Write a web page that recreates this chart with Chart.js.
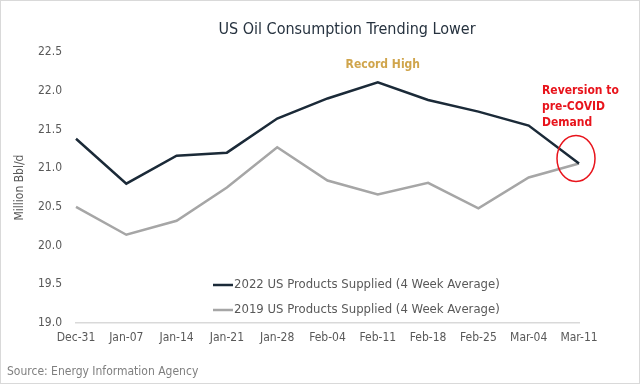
<!DOCTYPE html>
<html lang="en">
<head>
    <meta charset="UTF-8">
    <title>US Oil Consumption Trending Lower</title>
    <style>
        html, body { margin: 0; padding: 0; background: #fff; }
        #wrap { width: 640px; height: 384px; position: relative; box-sizing: border-box; border: 1px solid #d9d9d9; }
    </style>
</head>
<body>
    <div id="wrap">
        <canvas id="myChart" width="638" height="382"></canvas>
    </div>

    <script src="https://cdn.jsdelivr.net/npm/chart.js"></script>

    <script>
    // weekly dates (x axis)
    var weeks = ["Dec-31", "Jan-07", "Jan-14", "Jan-21", "Jan-28", "Feb-04",
                 "Feb-11", "Feb-18", "Feb-25", "Mar-04", "Mar-11"];

    // million bbl/d
    var supplied2022 = [21.38, 20.80, 21.16, 21.20, 21.64, 21.90, 22.11, 21.88, 21.73, 21.55, 21.06];
    var supplied2019 = [20.50, 20.14, 20.32, 20.75, 21.27, 20.84, 20.66, 20.81, 20.48, 20.88, 21.06];

    var label2022 = "2022 US Products Supplied (4 Week Average)";
    var label2019 = "2019 US Products Supplied (4 Week Average)";

    var font = "DejaVu Sans Condensed, DejaVu Sans, sans-serif";

    // title, notes, legend and source text
    const extras = {
        id: 'extras',
        afterDraw(chart) {
            const c = chart.ctx;
            const xs = chart.scales.x;
            const ys = chart.scales.y;
            c.save();

            c.fillStyle = '#26323f';
            c.font = '16px ' + font;
            c.textAlign = 'center';
            c.textBaseline = 'middle';
            c.fillText('US Oil Consumption Trending Lower', 346, 29);

            // record high note
            c.fillStyle = '#d0a54c';
            c.font = 'bold 12px ' + font;
            c.fillText('Record High', xs.getPixelForValue(6) + 5, 64);

            // reversion note
            c.fillStyle = '#e8141c';
            c.textAlign = 'left';
            c.fillText('Reversion to', 541, 90);
            c.fillText('pre-COVID', 541, 106);
            c.fillText('Demand', 541, 122);

            // circle round the last point
            c.strokeStyle = '#e8141c';
            c.lineWidth = 1.5;
            c.beginPath();
            c.ellipse(xs.getPixelForValue(10) - 3, ys.getPixelForValue(21.06) - 5, 19, 23, 0, 0, Math.PI * 2);
            c.stroke();

            // legend
            const items = [[label2022, '#1b2a38'], [label2019, '#a6a6a6']];
            c.font = '13px ' + font;
            c.lineWidth = 2.5;
            items.forEach(function (it, i) {
                const y = 284 + i * 25;
                c.strokeStyle = it[1];
                c.beginPath();
                c.moveTo(212, y);
                c.lineTo(232, y);
                c.stroke();
                c.fillStyle = '#595959';
                c.fillText(it[0], 233, y);
            });

            c.font = '12px ' + font;
            c.fillStyle = '#7f7f7f';
            c.fillText('Source: Energy Information Agency', 6, 371);
            c.restore();
        }
    };

    const ctx = document.getElementById('myChart');
    new Chart(ctx, {
        type: 'line',
        data: {
            labels: weeks,
            datasets: [{
                label: label2022,
                data: supplied2022,
                borderColor: '#1b2a38',
                borderWidth: 2.5,
                pointRadius: 0,
                tension: 0
            }, {
                label: label2019,
                data: supplied2019,
                borderColor: '#a6a6a6',
                borderWidth: 2.5,
                pointRadius: 0,
                tension: 0
            }]
        },
        options: {
            responsive: false,
            animation: false,
            layout: { padding: { top: 51, right: 60, bottom: 30, left: 0 } },
            plugins: {
                legend: { display: false },
                tooltip: { enabled: false }
            },
            scales: {
                x: {
                    offset: false,
                    grid: { display: false },
                    border: { display: true, color: '#d9d9d9', width: 1.5 },
                    ticks: { color: '#595959', font: { family: font, size: 12 }, padding: 0, maxRotation: 0, autoSkip: false },
                    afterFit: function (s) { s.height = 30; }
                },
                y: {
                    min: 19,
                    max: 22.5,
                    grid: { display: false },
                    border: { display: false },
                    ticks: {
                        stepSize: 0.5,
                        color: '#595959',
                        font: { family: font, size: 12 },
                        padding: 6,
                        callback: function (v) { return v.toFixed(1); }
                    },
                    title: {
                        display: true,
                        text: 'Million Bbl/d',
                        color: '#595959',
                        font: { family: font, size: 12 },
                        padding: 12
                    },
                    afterFit: function (s) { s.width = 75; }
                }
            }
        },
        plugins: [extras]
    });
    </script>
</body>
</html>
